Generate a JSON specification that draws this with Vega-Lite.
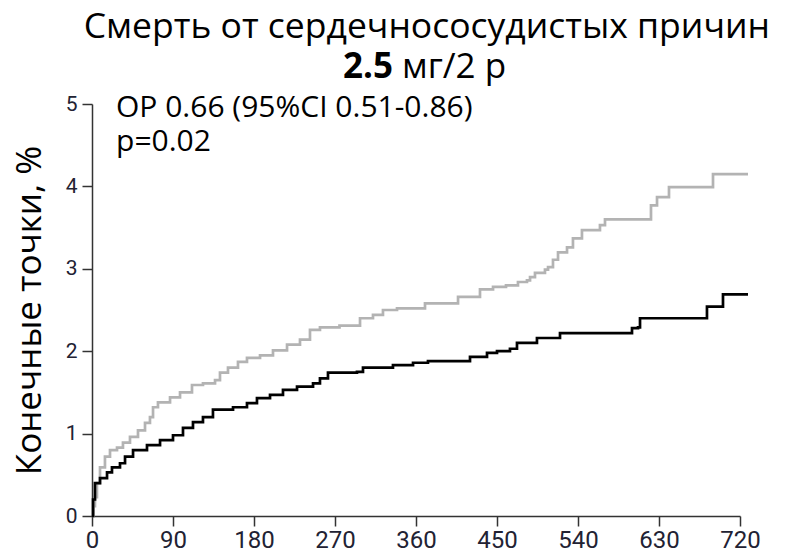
{
  "$schema": "https://vega.github.io/schema/vega-lite/v6.json",
  "width": 648,
  "height": 412,
  "autosize": {"type": "none"},
  "padding": {"left": 92, "top": 104, "right": 45, "bottom": 36},
  "background": "white",
  "config": {"view": {"stroke": null}, "font": "Open Sans"},
  "datasets": {
    "km": [
      {"g": "Плацебо", "day": 0, "pct": 0},
      {"g": "Плацебо", "day": 1.5, "pct": 0.12},
      {"g": "Плацебо", "day": 3.3, "pct": 0.23},
      {"g": "Плацебо", "day": 5.5, "pct": 0.4},
      {"g": "Плацебо", "day": 8.9, "pct": 0.59},
      {"g": "Плацебо", "day": 14.4, "pct": 0.72},
      {"g": "Плацебо", "day": 20, "pct": 0.8},
      {"g": "Плацебо", "day": 27.8, "pct": 0.83},
      {"g": "Плацебо", "day": 34.4, "pct": 0.89},
      {"g": "Плацебо", "day": 42.2, "pct": 0.96},
      {"g": "Плацебо", "day": 51.1, "pct": 1.04},
      {"g": "Плацебо", "day": 58.9, "pct": 1.13},
      {"g": "Плацебо", "day": 64.4, "pct": 1.2},
      {"g": "Плацебо", "day": 67.8, "pct": 1.32},
      {"g": "Плацебо", "day": 73.3, "pct": 1.38},
      {"g": "Плацебо", "day": 86.7, "pct": 1.44},
      {"g": "Плацебо", "day": 97.8, "pct": 1.5},
      {"g": "Плацебо", "day": 111.1, "pct": 1.59},
      {"g": "Плацебо", "day": 123.3, "pct": 1.61},
      {"g": "Плацебо", "day": 136.7, "pct": 1.65},
      {"g": "Плацебо", "day": 142.2, "pct": 1.74},
      {"g": "Плацебо", "day": 151.1, "pct": 1.8},
      {"g": "Плацебо", "day": 162.2, "pct": 1.87},
      {"g": "Плацебо", "day": 172.2, "pct": 1.92},
      {"g": "Плацебо", "day": 186.7, "pct": 1.95},
      {"g": "Плацебо", "day": 201.1, "pct": 2.01},
      {"g": "Плацебо", "day": 216.7, "pct": 2.08},
      {"g": "Плацебо", "day": 231.1, "pct": 2.14},
      {"g": "Плацебо", "day": 242.2, "pct": 2.26},
      {"g": "Плацебо", "day": 253.3, "pct": 2.29},
      {"g": "Плацебо", "day": 275, "pct": 2.31},
      {"g": "Плацебо", "day": 297.8, "pct": 2.4},
      {"g": "Плацебо", "day": 312.2, "pct": 2.44},
      {"g": "Плацебо", "day": 323.3, "pct": 2.5},
      {"g": "Плацебо", "day": 338.9, "pct": 2.52},
      {"g": "Плацебо", "day": 370, "pct": 2.58},
      {"g": "Плацебо", "day": 406.7, "pct": 2.66},
      {"g": "Плацебо", "day": 431.1, "pct": 2.75},
      {"g": "Плацебо", "day": 445.6, "pct": 2.78},
      {"g": "Плацебо", "day": 460, "pct": 2.8},
      {"g": "Плацебо", "day": 473.3, "pct": 2.84},
      {"g": "Плацебо", "day": 483.3, "pct": 2.86},
      {"g": "Плацебо", "day": 486.7, "pct": 2.9},
      {"g": "Плацебо", "day": 492.2, "pct": 2.95},
      {"g": "Плацебо", "day": 503.3, "pct": 2.99},
      {"g": "Плацебо", "day": 506.7, "pct": 3.02},
      {"g": "Плацебо", "day": 512.2, "pct": 3.11},
      {"g": "Плацебо", "day": 517.8, "pct": 3.2},
      {"g": "Плацебо", "day": 527.8, "pct": 3.26},
      {"g": "Плацебо", "day": 534.4, "pct": 3.37},
      {"g": "Плацебо", "day": 544.4, "pct": 3.47},
      {"g": "Плацебо", "day": 564.4, "pct": 3.53},
      {"g": "Плацебо", "day": 570, "pct": 3.6},
      {"g": "Плацебо", "day": 621.1, "pct": 3.77},
      {"g": "Плацебо", "day": 627.8, "pct": 3.87},
      {"g": "Плацебо", "day": 641.1, "pct": 3.99},
      {"g": "Плацебо", "day": 690, "pct": 4.15},
      {"g": "Плацебо", "day": 728.9, "pct": 4.15},
      {"g": "Ривароксабан", "day": 0, "pct": 0},
      {"g": "Ривароксабан", "day": 1.2, "pct": 0.2},
      {"g": "Ривароксабан", "day": 3.3, "pct": 0.4},
      {"g": "Ривароксабан", "day": 8.9, "pct": 0.46},
      {"g": "Ривароксабан", "day": 16.7, "pct": 0.53},
      {"g": "Ривароксабан", "day": 22.2, "pct": 0.59},
      {"g": "Ривароксабан", "day": 31.1, "pct": 0.64},
      {"g": "Ривароксабан", "day": 36.7, "pct": 0.72},
      {"g": "Ривароксабан", "day": 45.6, "pct": 0.8},
      {"g": "Ривароксабан", "day": 61.1, "pct": 0.86},
      {"g": "Ривароксабан", "day": 75.6, "pct": 0.92},
      {"g": "Ривароксабан", "day": 90, "pct": 0.98},
      {"g": "Ривароксабан", "day": 101.1, "pct": 1.07},
      {"g": "Ривароксабан", "day": 112.2, "pct": 1.14},
      {"g": "Ривароксабан", "day": 123.3, "pct": 1.2},
      {"g": "Ривароксабан", "day": 134.4, "pct": 1.29},
      {"g": "Ривароксабан", "day": 156.7, "pct": 1.32},
      {"g": "Ривароксабан", "day": 172.2, "pct": 1.37},
      {"g": "Ривароксабан", "day": 183.3, "pct": 1.43},
      {"g": "Ривароксабан", "day": 197.8, "pct": 1.47},
      {"g": "Ривароксабан", "day": 212.2, "pct": 1.53},
      {"g": "Ривароксабан", "day": 227.8, "pct": 1.57},
      {"g": "Ривароксабан", "day": 245.6, "pct": 1.61},
      {"g": "Ривароксабан", "day": 253.3, "pct": 1.67},
      {"g": "Ривароксабан", "day": 262.2, "pct": 1.74},
      {"g": "Ривароксабан", "day": 294.4, "pct": 1.75},
      {"g": "Ривароксабан", "day": 301.1, "pct": 1.8},
      {"g": "Ривароксабан", "day": 334.4, "pct": 1.83},
      {"g": "Ривароксабан", "day": 356.7, "pct": 1.86},
      {"g": "Ривароксабан", "day": 373.3, "pct": 1.88},
      {"g": "Ривароксабан", "day": 420, "pct": 1.93},
      {"g": "Ривароксабан", "day": 438.9, "pct": 1.98},
      {"g": "Ривароксабан", "day": 450, "pct": 2.0},
      {"g": "Ривароксабан", "day": 464.4, "pct": 2.03},
      {"g": "Ривароксабан", "day": 472.2, "pct": 2.1},
      {"g": "Ривароксабан", "day": 494.4, "pct": 2.16},
      {"g": "Ривароксабан", "day": 520, "pct": 2.22},
      {"g": "Ривароксабан", "day": 600, "pct": 2.28},
      {"g": "Ривароксабан", "day": 606.7, "pct": 2.29},
      {"g": "Ривароксабан", "day": 608.9, "pct": 2.4},
      {"g": "Ривароксабан", "day": 683.3, "pct": 2.54},
      {"g": "Ривароксабан", "day": 701.1, "pct": 2.69},
      {"g": "Ривароксабан", "day": 728.9, "pct": 2.69}
    ]
  },
  "layer": [
    {
      "data": {"name": "km"},
      "mark": {"type": "line", "interpolate": "step-after", "strokeWidth": 2.7},
      "encoding": {
        "x": {
          "field": "day",
          "type": "quantitative",
          "scale": {"domain": [0, 720], "nice": false, "zero": true},
          "axis": {
            "values": [0, 90, 180, 270, 360, 450, 540, 630, 720],
            "format": "d",
            "title": null,
            "grid": false,
            "tickSize": 10,
            "labelPadding": 2,
            "labelFlush": false,
            "labelOverlap": false,
            "labelFont": "Roboto",
            "labelFontSize": 24,
            "labelColor": "#222233",
            "domainColor": "#333333",
            "tickColor": "#333333",
            "domainWidth": 1.5,
            "tickWidth": 1.5
          }
        },
        "y": {
          "field": "pct",
          "type": "quantitative",
          "scale": {"domain": [0, 5], "nice": false},
          "axis": {
            "values": [0, 1, 2, 3, 4, 5],
            "format": "d",
            "title": "Конечные точки, %",
            "titleFont": "Open Sans",
            "titleFontSize": 35,
            "titleFontWeight": "normal",
            "titleColor": "#000000",
            "titleAngle": -90,
            "titleX": -52,
            "titleY": 206,
            "titleAlign": "center",
            "titleBaseline": "alphabetic",
            "grid": false,
            "tickSize": 10,
            "labelPadding": 5,
            "labelFont": "Roboto",
            "labelFontSize": 21,
            "labelColor": "#222233",
            "domainColor": "#333333",
            "tickColor": "#333333",
            "domainWidth": 1.5,
            "tickWidth": 1.5
          }
        },
        "color": {
          "field": "g",
          "type": "nominal",
          "scale": {"domain": ["Плацебо", "Ривароксабан"], "range": ["#b3b3b3", "#000000"]},
          "legend": null
        }
      }
    },
    {
      "data": {"values": [{}]},
      "mark": {"type": "text", "align": "center", "baseline": "alphabetic", "fontSize": 35.5, "font": "Open Sans", "color": "#000000"},
      "encoding": {
        "x": {"datum": 372},
        "y": {"datum": 5.8},
        "text": {"value": "Смерть от сердечнососудистых причин"}
      }
    },
    {
      "data": {"values": [{}]},
      "mark": {"type": "text", "align": "right", "baseline": "alphabetic", "fontSize": 35, "font": "Open Sans", "fontWeight": "bold", "color": "#000000"},
      "encoding": {
        "x": {"datum": 334.4},
        "y": {"datum": 5.316},
        "text": {"value": "2.5"}
      }
    },
    {
      "data": {"values": [{}]},
      "mark": {"type": "text", "align": "left", "baseline": "alphabetic", "fontSize": 35, "font": "Open Sans", "color": "#000000"},
      "encoding": {
        "x": {"datum": 344.4},
        "y": {"datum": 5.316},
        "text": {"value": "мг/2 р"}
      }
    },
    {
      "data": {"values": [{}]},
      "mark": {"type": "text", "align": "left", "baseline": "alphabetic", "fontSize": 30, "font": "Open Sans", "color": "#000000"},
      "encoding": {
        "x": {"datum": 26.7},
        "y": {"datum": 4.842},
        "text": {"value": "ОР 0.66 (95%CI 0.51-0.86)"}
      }
    },
    {
      "data": {"values": [{}]},
      "mark": {"type": "text", "align": "left", "baseline": "alphabetic", "fontSize": 30, "font": "Open Sans", "color": "#000000"},
      "encoding": {
        "x": {"datum": 26.7},
        "y": {"datum": 4.43},
        "text": {"value": "p=0.02"}
      }
    }
  ]
}
